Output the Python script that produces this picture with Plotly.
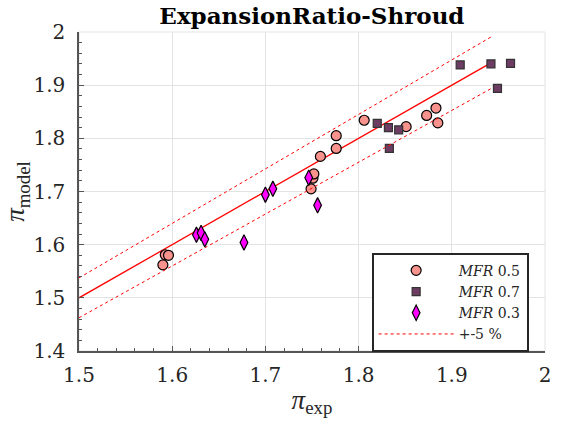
import numpy as np
import plotly.graph_objects as go

# Measured vs. modelled expansion ratio, grouped by mass-flow ratio
exp_mfr05 = [1.5926, 1.596, 1.590, 1.749, 1.751, 1.752, 1.759, 1.776, 1.776,
             1.806, 1.851, 1.873, 1.883, 1.885]
mod_mfr05 = [1.581, 1.580, 1.562, 1.705, 1.725, 1.733, 1.766, 1.781, 1.805,
             1.834, 1.822, 1.843, 1.857, 1.829]

exp_mfr07 = [1.820, 1.832, 1.843, 1.833, 1.909, 1.942, 1.963, 1.949]
mod_mfr07 = [1.828, 1.820, 1.816, 1.781, 1.938, 1.940, 1.941, 1.894]

exp_mfr03 = [1.626, 1.631, 1.635, 1.677, 1.700, 1.708, 1.7465, 1.756]
mod_mfr03 = [1.6185, 1.622, 1.610, 1.604, 1.694, 1.705, 1.726, 1.674]

# Parity line range and relative band half-width (total band = 5 %)
ref_x = np.array([1.5, 1.942])
band = 0.025

x_ticks = [1.5, 1.6, 1.7, 1.8, 1.9, 2.0]
y_ticks = [1.4, 1.5, 1.6, 1.7, 1.8, 1.9, 2.0]

FONT = "DejaVu Serif"
MATH_FONT = "Liberation Serif"
INK = "#262626"

fig = go.Figure()

# parity line
fig.add_trace(go.Scatter(x=ref_x, y=ref_x, mode="lines",
                         line=dict(color="#ff0000", width=1.3),
                         showlegend=False, hoverinfo="skip"))

fig.add_trace(go.Scatter(x=exp_mfr05, y=mod_mfr05, mode="markers",
                         name="<i>MFR</i> 0.5",
                         marker=dict(symbol="circle", size=10, color="#f8928c",
                                     line=dict(color="#000000", width=1.2))))
fig.add_trace(go.Scatter(x=exp_mfr07, y=mod_mfr07, mode="markers",
                         name="<i>MFR</i> 0.7",
                         marker=dict(symbol="square", size=8, color="#6c3c62",
                                     line=dict(color="#333333", width=1.2))))
fig.add_trace(go.Scatter(x=exp_mfr03, y=mod_mfr03, mode="markers",
                         name="<i>MFR</i> 0.3",
                         marker=dict(symbol="diamond-tall", size=11, color="#ff00ff",
                                     line=dict(color="#000000", width=1.2))))

# +/- band
fig.add_trace(go.Scatter(x=ref_x, y=ref_x * (1 + band), mode="lines",
                         name="+-5 %", legendgroup="band",
                         line=dict(color="#ff0000", width=1, dash="3px,3px")))
fig.add_trace(go.Scatter(x=ref_x, y=ref_x * (1 - band), mode="lines",
                         name="+-5 %", legendgroup="band", showlegend=False,
                         line=dict(color="#ff0000", width=1, dash="3px,3px")))

axis_common = dict(
    showgrid=True, gridcolor="#e3e3e3", gridwidth=1,
    showline=True, linecolor="#555555", linewidth=1.5,
    ticks="inside", ticklen=5, tickcolor="#555555", tickwidth=1,
    tickfont=dict(family=FONT, size=20, color=INK),
    zeroline=False,
    minor=dict(ticks="inside", ticklen=3, tickcolor="#555555", dtick=0.02,
               showgrid=False),
)

fig.update_xaxes(range=[1.5, 2.0], tickvals=x_ticks,
                 ticktext=[f"{v:g}" for v in x_ticks], ticklabelstandoff=5,
                 title=dict(text="<i>π</i><sub>exp</sub>",
                            font=dict(family=MATH_FONT, size=27, color=INK), standoff=4),
                 **axis_common)
fig.update_yaxes(range=[1.4, 2.0], tickvals=y_ticks,
                 ticktext=[f"{v:g}" for v in y_ticks], ticklabelstandoff=8,
                 title=dict(text="<i>π</i><sub>model</sub>",
                            font=dict(family=MATH_FONT, size=27, color=INK), standoff=0),
                 **axis_common)

# light frame on the top and right edges of the plot area
fig.add_shape(type="rect", xref="x domain", yref="y domain", x0=0, x1=1, y0=0, y1=1,
              line=dict(color="#e3e3e3", width=1), layer="below")

fig.update_layout(
    width=562, height=423,
    margin=dict(l=79, r=17, t=32, b=72),
    paper_bgcolor="white", plot_bgcolor="white",
    title=dict(text="<b>ExpansionRatio-Shroud</b>", x=0.555, xanchor="center",
               y=0.962, yanchor="middle", yref="container",
               font=dict(family=FONT, size=23, color="#000000")),
    legend=dict(x=0.628, y=0.308, xanchor="left", yanchor="top",
                bgcolor="white", bordercolor="#262626", borderwidth=2,
                font=dict(family=FONT, size=14, color=INK),
                itemwidth=75, tracegroupgap=0),
    showlegend=True,
)

fig.write_html("out.html")
